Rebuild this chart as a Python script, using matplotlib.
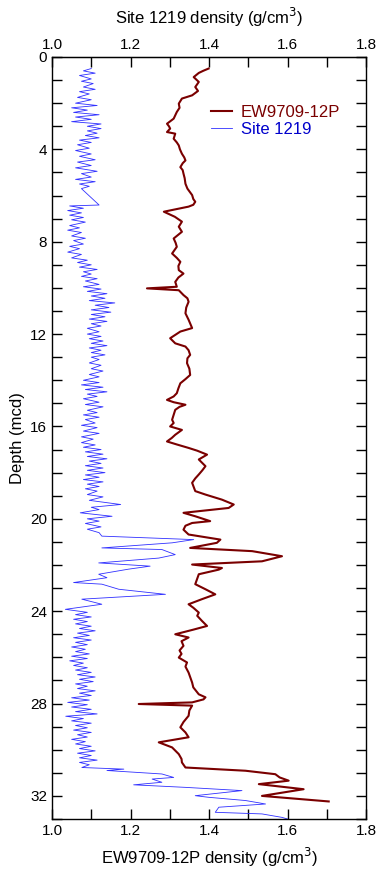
import matplotlib
matplotlib.use("Agg")
import matplotlib.pyplot as plt
from matplotlib.ticker import MultipleLocator

plt.rcParams['font.family'] = ['Liberation Sans', 'DejaVu Sans']

# EW9709-12P (bottom axis)
ew_depth = [0.5, 0.6, 0.69, 0.87, 1.08, 1.3, 1.47, 1.66, 1.8, 2.02, 2.2, 2.38, 2.67, 2.89, 3.0,
            3.1, 3.25, 3.32, 3.54, 3.7, 3.83, 4.0, 4.19, 4.35, 4.48, 4.6, 4.77, 4.9, 5.05, 5.25,
            5.49, 5.7, 5.98, 6.15, 6.27, 6.4, 6.48, 6.7, 6.92, 7.13, 7.35, 7.57, 7.86, 8.05, 8.22,
            8.51, 8.7, 8.87, 9.05, 9.23, 9.38, 9.55, 9.74, 9.95, 10.02, 10.1, 10.31, 10.45, 10.6,
            10.85, 11.1, 11.38, 11.74, 11.89, 12.18, 12.4, 12.54, 12.7, 12.9, 13.05, 13.26, 13.5,
            13.77, 13.95, 14.13, 14.35, 14.56, 14.7, 14.85, 14.95, 15.06, 15.15, 15.28, 15.5, 15.71,
            15.85, 16.0, 16.15, 16.36, 16.5, 16.65, 16.78, 16.93, 17.05, 17.22, 17.43, 17.72, 17.9,
            18.08, 18.25, 18.44, 18.8, 18.95, 19.17, 19.38, 19.53, 19.67, 19.74, 19.89, 20.1, 20.18,
            20.3, 20.47, 20.68, 20.9, 21.04, 21.26, 21.4, 21.62, 21.84, 21.98, 22.13, 22.2, 22.4,
            22.83, 23.05, 23.27, 23.48, 23.7, 23.85, 24.06, 24.2, 24.42, 24.64, 24.8, 25.0, 25.14,
            25.3, 25.5, 25.7, 25.85, 26.01, 26.22, 26.4, 26.66, 26.85, 27.09, 27.3, 27.6, 27.73,
            27.82, 27.95, 28.02, 28.09, 28.3, 28.53, 28.8, 29.03, 29.25, 29.46, 29.68, 29.9, 30.19,
            30.4, 30.55, 30.77, 30.91, 31.06, 31.2, 31.34, 31.49, 31.71, 32.0, 32.24]
ew_dens = [1.399, 1.385, 1.374, 1.361, 1.374, 1.365, 1.372, 1.357, 1.331, 1.323, 1.325, 1.318, 1.31,
           1.293, 1.298, 1.301, 1.293, 1.314, 1.31, 1.318, 1.323, 1.326, 1.331, 1.337, 1.34, 1.333,
           1.327, 1.333, 1.335, 1.338, 1.34, 1.345, 1.357, 1.36, 1.365, 1.36, 1.348, 1.285, 1.313,
           1.331, 1.323, 1.331, 1.31, 1.315, 1.318, 1.306, 1.318, 1.327, 1.322, 1.323, 1.335, 1.322,
           1.314, 1.318, 1.242, 1.323, 1.335, 1.345, 1.348, 1.342, 1.34, 1.348, 1.357, 1.327, 1.301,
           1.314, 1.34, 1.348, 1.352, 1.345, 1.344, 1.35, 1.352, 1.34, 1.327, 1.322, 1.318, 1.31,
           1.293, 1.31, 1.34, 1.325, 1.314, 1.31, 1.306, 1.31, 1.301, 1.331, 1.314, 1.305, 1.293,
           1.318, 1.348, 1.37, 1.395, 1.374, 1.391, 1.383, 1.374, 1.365, 1.357, 1.365, 1.391, 1.433,
           1.463, 1.45, 1.374, 1.335, 1.365, 1.403, 1.357, 1.34, 1.335, 1.348, 1.429, 1.42, 1.352,
           1.51, 1.586, 1.535, 1.357, 1.433, 1.425, 1.374, 1.365, 1.391, 1.416, 1.382, 1.348, 1.36,
           1.374, 1.37, 1.382, 1.395, 1.36, 1.314, 1.348, 1.33, 1.335, 1.325, 1.33, 1.323, 1.344,
           1.34, 1.348, 1.352, 1.357, 1.36, 1.374, 1.391, 1.386, 1.357, 1.221, 1.357, 1.35, 1.348,
           1.335, 1.327, 1.34, 1.348, 1.272, 1.306, 1.323, 1.33, 1.331, 1.34, 1.493, 1.569, 1.58,
           1.603, 1.527, 1.641, 1.535, 1.705]

# Site 1219 (top axis)
site_depth = [0.5, 0.6, 0.7, 0.8, 0.95, 1.05, 1.15, 1.3, 1.4, 1.5, 1.6, 1.75, 1.85, 2.0, 2.1, 2.2,
              2.3, 2.4, 2.5, 2.6, 2.7, 2.8, 2.9, 3.0, 3.1, 3.2, 3.3, 3.4, 3.5, 3.6, 3.7, 3.8, 3.95,
              4.05, 4.2, 4.3, 4.45, 4.55, 4.7, 4.8, 4.95, 5.05, 5.2, 5.3, 5.4, 5.5, 5.6, 5.7, 6.41,
              6.45, 6.55, 6.65, 6.75, 6.85, 6.95, 7.05, 7.15, 7.3, 7.4, 7.5, 7.6, 7.75, 7.85, 7.95,
              8.1, 8.2, 8.3, 8.45, 8.55, 8.7, 8.8, 8.9, 9.0, 9.1, 9.2, 9.3, 9.4, 9.5, 9.6, 9.7, 9.85,
              9.95, 10.05, 10.15, 10.25, 10.35, 10.45, 10.55, 10.65, 10.75, 10.85, 10.95, 11.05,
              11.15, 11.25, 11.35, 11.45, 11.55, 11.65, 11.75, 11.9, 12.0, 12.1, 12.2, 12.3, 12.4,
              12.5, 12.6, 12.7, 12.8, 12.9, 13.0, 13.1, 13.25, 13.35, 13.5, 13.6, 13.75, 13.85, 14.0,
              14.1, 14.2, 14.3, 14.4, 14.5, 14.6, 14.7, 14.8, 14.95, 15.05, 15.15, 15.3, 15.4, 15.5,
              15.6, 15.7, 15.85, 15.95, 16.05, 16.2, 16.3, 16.45, 16.55, 16.7, 16.8, 16.9, 17.0,
              17.1, 17.2, 17.3, 17.4, 17.5, 17.6, 17.7, 17.8, 17.9, 18.0, 18.1, 18.2, 18.3, 18.4,
              18.5, 18.6, 18.7, 18.8, 18.95, 19.05, 19.2, 19.38, 19.5, 19.6, 19.74, 19.89, 20.0,
              20.1, 20.2, 20.35, 20.45, 20.6, 20.75, 20.9, 21.04, 21.26, 21.33, 21.55, 21.7, 21.91,
              22.05, 22.18, 22.4, 22.55, 22.76, 22.83, 23.05, 23.27, 23.48, 23.7, 23.92, 24.05,
              24.15, 24.25, 24.35, 24.45, 24.55, 24.65, 24.75, 24.85, 24.95, 25.05, 25.15, 25.25,
              25.35, 25.45, 25.55, 25.65, 25.75, 25.85, 25.95, 26.05, 26.15, 26.25, 26.35, 26.45,
              26.55, 26.65, 26.75, 26.85, 26.95, 27.05, 27.15, 27.25, 27.35, 27.45, 27.55, 27.65,
              27.75, 27.85, 27.95, 28.05, 28.15, 28.25, 28.35, 28.45, 28.55, 28.65, 28.75, 28.85,
              28.95, 29.05, 29.15, 29.25, 29.35, 29.45, 29.55, 29.65, 29.75, 29.85, 29.95, 30.05,
              30.15, 30.25, 30.35, 30.45, 30.55, 30.65, 30.77, 30.84, 30.9, 31.05, 31.2, 31.27,
              31.41, 31.52, 31.63, 31.77, 31.99, 32.06, 32.2, 32.35, 32.49, 32.71, 32.78, 32.93, 33.0]
site_dens = [1.10, 1.08, 1.11, 1.07, 1.10, 1.075, 1.105, 1.08, 1.11, 1.07, 1.095, 1.065, 1.10, 1.06,
             1.115, 1.05, 1.09, 1.055, 1.12, 1.06, 1.10, 1.05, 1.125, 1.09, 1.125, 1.09, 1.115,
             1.085, 1.12, 1.07, 1.10, 1.065, 1.095, 1.06, 1.10, 1.07, 1.11, 1.065, 1.10, 1.06,
             1.115, 1.075, 1.10, 1.06, 1.11, 1.07, 1.095, 1.075, 1.12, 1.045, 1.08, 1.04, 1.075,
             1.045, 1.08, 1.05, 1.085, 1.045, 1.07, 1.04, 1.075, 1.05, 1.085, 1.055, 1.08, 1.045,
             1.07, 1.04, 1.075, 1.05, 1.09, 1.065, 1.10, 1.07, 1.115, 1.08, 1.10, 1.075, 1.115,
             1.085, 1.12, 1.08, 1.125, 1.09, 1.14, 1.10, 1.135, 1.095, 1.16, 1.11, 1.145, 1.10,
             1.15, 1.10, 1.135, 1.095, 1.14, 1.10, 1.125, 1.09, 1.12, 1.09, 1.125, 1.095, 1.13,
             1.10, 1.14, 1.095, 1.125, 1.10, 1.135, 1.10, 1.12, 1.095, 1.125, 1.10, 1.13, 1.095,
             1.12, 1.08, 1.12, 1.075, 1.13, 1.085, 1.14, 1.09, 1.115, 1.08, 1.12, 1.085, 1.13, 1.09,
             1.115, 1.08, 1.12, 1.085, 1.11, 1.075, 1.115, 1.08, 1.12, 1.075, 1.105, 1.075, 1.11,
             1.08, 1.125, 1.085, 1.13, 1.09, 1.14, 1.095, 1.125, 1.085, 1.13, 1.09, 1.135, 1.085,
             1.12, 1.08, 1.13, 1.09, 1.12, 1.085, 1.115, 1.09, 1.13, 1.095, 1.175, 1.10, 1.12,
             1.072, 1.153, 1.09, 1.12, 1.085, 1.125, 1.09, 1.12, 1.127, 1.361, 1.306, 1.127, 1.28,
             1.314, 1.272, 1.119, 1.25, 1.195, 1.119, 1.14, 1.055, 1.127, 1.17, 1.289, 1.076, 1.127,
             1.034, 1.09, 1.06, 1.10, 1.055, 1.09, 1.06, 1.10, 1.07, 1.11, 1.065, 1.095, 1.055, 1.10,
             1.06, 1.09, 1.05, 1.085, 1.06, 1.095, 1.05, 1.09, 1.045, 1.08, 1.055, 1.09, 1.06, 1.10,
             1.065, 1.11, 1.07, 1.105, 1.06, 1.09, 1.065, 1.11, 1.07, 1.10, 1.05, 1.095, 1.04, 1.09,
             1.05, 1.10, 1.06, 1.115, 1.035, 1.08, 1.05, 1.10, 1.06, 1.09, 1.055, 1.10, 1.065, 1.09,
             1.05, 1.085, 1.06, 1.10, 1.07, 1.11, 1.065, 1.10, 1.07, 1.115, 1.07, 1.095, 1.076,
             1.183, 1.14, 1.28, 1.31, 1.255, 1.28, 1.208, 1.34, 1.484, 1.365, 1.399, 1.493, 1.544,
             1.425, 1.416, 1.535, 1.586, 1.60]

red = '#7a0000'
blue = '#3030ff'

fig = plt.figure(figsize=(3.84, 8.75), dpi=100)
ax = fig.add_axes([52 / 384, 1 - 819 / 875, 314 / 384, 762 / 875])

ax.plot(ew_dens, ew_depth, color=red, lw=1.5, label='EW9709-12P')
ax.plot(site_dens, site_depth, color=blue, lw=0.6, label='Site 1219')

ax.set_xlim(1.0, 1.8)
ax.set_ylim(33, 0)
ax.xaxis.set_major_locator(MultipleLocator(0.2))
ax.xaxis.set_minor_locator(MultipleLocator(0.1))
ax.yaxis.set_major_locator(MultipleLocator(4))
ax.yaxis.set_minor_locator(MultipleLocator(1))
ax.xaxis.set_major_formatter(matplotlib.ticker.FormatStrFormatter('%.1f'))
ax.tick_params(which='both', direction='in', top=True, right=True, length=7, width=1,
               labelsize=11, labeltop=True)
for s in ax.spines.values():
    s.set_linewidth(1)

ax.set_xlabel('EW9709-12P density (g/cm$^3$)', fontsize=12, labelpad=6)
ax.set_ylabel('Depth (mcd)', fontsize=12, labelpad=4)
top = ax.secondary_xaxis('top')
top.set_xticks([])
top.set_xlabel('Site 1219 density (g/cm$^3$)', fontsize=12, labelpad=24)

leg = ax.legend(loc='upper left', bbox_to_anchor=(0.505, 0.937), frameon=False, fontsize=12,
                handlelength=1.3, handletextpad=0.5, borderaxespad=0, borderpad=0,
                labelspacing=0.1)
for t, c in zip(leg.get_texts(), [red, '#0000cc']):
    t.set_color(c)

fig.savefig('out.png', dpi=100)
